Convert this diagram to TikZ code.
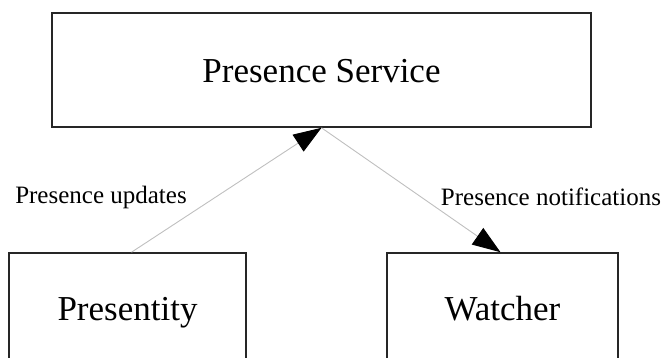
\documentclass[tikz,border=0pt]{standalone}
\usepackage{fontspec}
\setmainfont{Liberation Serif}
\usetikzlibrary{arrows.meta}

\tikzset{
    entity/.style={draw=black!85, line width=1.6pt, inner sep=0pt,
        text height=24pt, text depth=0pt,
        font=\fontsize{35}{40}\selectfont},
    flow/.style={draw=black!25, line width=0.9pt,
        -{Triangle[length=28pt, width=20pt, color=black, fill=black]}},
    flowtext/.style={inner sep=0pt, font=\fontsize{25}{30}\selectfont}
}

\begin{document}
\begin{tikzpicture}[x=1pt, y=-1pt]
\useasboundingbox (0,0) rectangle (665,357);

% service on top
    \node[entity, minimum width=539pt, minimum height=114pt] (service) at (321.5,70) {Presence Service};

% the two clients
    \node[entity, minimum width=237pt, minimum height=110pt] (presentity) at (127.5,308) {Presentity};
    \node[entity, minimum width=231pt, minimum height=110pt] (watcher) at (502.5,308) {Watcher};

% flows
    \draw[flow] ([xshift=4pt]presentity.north) -- (service.south);
    \draw[flow] (service.south) -- ([xshift=-2pt]watcher.north);

% flow labels
    \node[flowtext] (updates) at (101,197) {Presence updates};
    \node[flowtext] (notify) at (551,197) {Presence notifications};

\end{tikzpicture}
\end{document}
